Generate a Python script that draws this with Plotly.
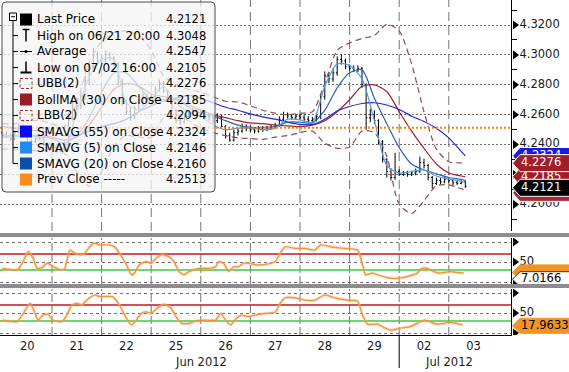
import plotly.graph_objects as go

# ---------------- data ----------------
day_labels = ["20", "21", "22", "25", "26", "27", "28", "29", "02", "03"]
day_month = [0, 0, 0, 0, 0, 0, 0, 0, 1, 1]
month_labels = ["Jun 2012", "Jul 2012"]
bars_per_day = 12  # 2-hour bars

bar_open = [
    4.2480, 4.2470, 4.2460, 4.2440, 4.2480, 4.2520, 4.2470, 4.2410, 4.2420, 4.2450, 4.2440, 4.2400,
    4.2380, 4.2380, 4.2360, 4.2370, 4.2400, 4.2580, 4.2680, 4.2660, 4.2720, 4.2830, 4.2920, 4.3000,
    4.2960, 4.2970, 4.3000, 4.2980, 4.2940, 4.2820, 4.2680, 4.2620, 4.2580, 4.2640, 4.2680, 4.2720,
    4.2710, 4.2720, 4.2770, 4.2810, 4.2760, 4.2700, 4.2630, 4.2560, 4.2550, 4.2590, 4.2610, 4.2620,
    4.2610, 4.2610, 4.2590, 4.2580, 4.2560, 4.2580, 4.2520, 4.2460, 4.2430, 4.2480, 4.2490, 4.2520,
    4.2510, 4.2500, 4.2490, 4.2510, 4.2500, 4.2510, 4.2520, 4.2530, 4.2570, 4.2600, 4.2590, 4.2580,
    4.2590, 4.2580, 4.2570, 4.2560, 4.2570, 4.2590, 4.2720, 4.2860, 4.2840, 4.2880, 4.2970, 4.2960,
    4.2920, 4.2910, 4.2900, 4.2910, 4.2800, 4.2580, 4.2600, 4.2560, 4.2420, 4.2300, 4.2220, 4.2180,
    4.2220, 4.2200, 4.2210, 4.2200, 4.2210, 4.2220, 4.2280, 4.2260, 4.2180, 4.2140, 4.2160, 4.2150,
    4.2170, 4.2160, 4.2145, 4.2140, 4.2150]
bar_high = [
    4.2500, 4.2490, 4.2475, 4.2495, 4.2545, 4.2535, 4.2480, 4.2440, 4.2465, 4.2470, 4.2455, 4.2415,
    4.2400, 4.2395, 4.2385, 4.2420, 4.2610, 4.2720, 4.2710, 4.2750, 4.2860, 4.2960, 4.3048, 4.3020,
    4.3000, 4.3030, 4.3020, 4.2990, 4.2950, 4.2840, 4.2700, 4.2650, 4.2660, 4.2700, 4.2750, 4.2740,
    4.2740, 4.2790, 4.2835, 4.2825, 4.2770, 4.2710, 4.2640, 4.2580, 4.2610, 4.2630, 4.2645, 4.2635,
    4.2640, 4.2630, 4.2610, 4.2600, 4.2610, 4.2600, 4.2530, 4.2480, 4.2500, 4.2510, 4.2540, 4.2535,
    4.2525, 4.2515, 4.2525, 4.2525, 4.2525, 4.2535, 4.2545, 4.2590, 4.2620, 4.2615, 4.2605, 4.2605,
    4.2605, 4.2600, 4.2590, 4.2585, 4.2610, 4.2740, 4.2890, 4.2885, 4.2910, 4.2990, 4.3000, 4.2975,
    4.2935, 4.2930, 4.2930, 4.2920, 4.2810, 4.2640, 4.2630, 4.2570, 4.2430, 4.2310, 4.2240, 4.2345,
    4.2235, 4.2225, 4.2225, 4.2225, 4.2240, 4.2320, 4.2305, 4.2270, 4.2190, 4.2180, 4.2175, 4.2185,
    4.2180, 4.2170, 4.2160, 4.2165, 4.2160]
bar_low = [
    4.2455, 4.2445, 4.2425, 4.2430, 4.2470, 4.2460, 4.2395, 4.2395, 4.2410, 4.2425, 4.2390, 4.2365,
    4.2355, 4.2345, 4.2350, 4.2355, 4.2390, 4.2560, 4.2630, 4.2640, 4.2700, 4.2800, 4.2900, 4.2930,
    4.2940, 4.2950, 4.2960, 4.2920, 4.2800, 4.2660, 4.2600, 4.2560, 4.2570, 4.2620, 4.2660, 4.2690,
    4.2695, 4.2705, 4.2755, 4.2745, 4.2690, 4.2615, 4.2540, 4.2530, 4.2540, 4.2580, 4.2595, 4.2590,
    4.2590, 4.2570, 4.2560, 4.2540, 4.2545, 4.2505, 4.2440, 4.2420, 4.2420, 4.2460, 4.2480, 4.2490,
    4.2485, 4.2475, 4.2480, 4.2485, 4.2490, 4.2500, 4.2510, 4.2520, 4.2555, 4.2575, 4.2565, 4.2570,
    4.2565, 4.2555, 4.2545, 4.2545, 4.2555, 4.2570, 4.2700, 4.2810, 4.2820, 4.2860, 4.2935, 4.2905,
    4.2895, 4.2885, 4.2885, 4.2780, 4.2500, 4.2550, 4.2540, 4.2400, 4.2280, 4.2180, 4.2160, 4.2165,
    4.2190, 4.2190, 4.2185, 4.2190, 4.2195, 4.2210, 4.2240, 4.2160, 4.2105, 4.2130, 4.2135, 4.2140,
    4.2145, 4.2125, 4.2130, 4.2135, 4.2110]
bar_close = [
    4.2470, 4.2460, 4.2440, 4.2480, 4.2520, 4.2470, 4.2410, 4.2420, 4.2450, 4.2440, 4.2400, 4.2380,
    4.2380, 4.2360, 4.2370, 4.2400, 4.2580, 4.2680, 4.2660, 4.2720, 4.2830, 4.2920, 4.3000, 4.2960,
    4.2970, 4.3000, 4.2980, 4.2940, 4.2820, 4.2680, 4.2620, 4.2580, 4.2640, 4.2680, 4.2720, 4.2710,
    4.2720, 4.2770, 4.2810, 4.2760, 4.2700, 4.2630, 4.2560, 4.2550, 4.2590, 4.2610, 4.2620, 4.2610,
    4.2610, 4.2590, 4.2580, 4.2560, 4.2580, 4.2520, 4.2460, 4.2430, 4.2480, 4.2490, 4.2520, 4.2510,
    4.2500, 4.2490, 4.2510, 4.2500, 4.2510, 4.2520, 4.2530, 4.2570, 4.2600, 4.2590, 4.2580, 4.2590,
    4.2580, 4.2570, 4.2560, 4.2570, 4.2590, 4.2720, 4.2860, 4.2840, 4.2880, 4.2970, 4.2960, 4.2920,
    4.2910, 4.2900, 4.2910, 4.2800, 4.2580, 4.2600, 4.2560, 4.2420, 4.2300, 4.2220, 4.2180, 4.2220,
    4.2200, 4.2210, 4.2200, 4.2210, 4.2220, 4.2280, 4.2260, 4.2180, 4.2140, 4.2160, 4.2150, 4.2170,
    4.2160, 4.2145, 4.2140, 4.2150, 4.2121]

# indicator lines, sampled every 6 hours plus the final bar
sma5 = [4.247, 4.245, 4.248, 4.243, 4.240, 4.238, 4.262, 4.285, 4.297, 4.297, 4.268, 4.263,
        4.270, 4.279, 4.268, 4.262, 4.259, 4.253, 4.250, 4.251, 4.251, 4.250, 4.251, 4.257,
        4.2565, 4.255, 4.279, 4.294, 4.293, 4.284, 4.256, 4.226, 4.221, 4.222, 4.223, 4.219,
        4.217, 4.2155, 4.2146]
sma20 = [4.246, 4.246, 4.246, 4.245, 4.244, 4.241, 4.246, 4.258, 4.275, 4.288, 4.288, 4.279,
         4.270, 4.270, 4.271, 4.265, 4.261, 4.259, 4.256, 4.253, 4.2515, 4.2515, 4.252, 4.255,
         4.255, 4.2545, 4.263, 4.278, 4.288, 4.290, 4.271, 4.254, 4.238, 4.227, 4.223, 4.2205,
         4.218, 4.2168, 4.2160]
boll_ma = [4.245, 4.2455, 4.246, 4.246, 4.245, 4.243, 4.245, 4.253, 4.265, 4.277, 4.281, 4.279,
           4.274, 4.272, 4.270, 4.2665, 4.263, 4.260, 4.258, 4.256, 4.2545, 4.254, 4.253, 4.2525,
           4.252, 4.253, 4.256, 4.262, 4.270, 4.279, 4.280, 4.2755, 4.262, 4.249, 4.2375, 4.227,
           4.221, 4.219, 4.2185]
ubb = [4.254, 4.254, 4.256, 4.256, 4.254, 4.252, 4.268, 4.295, 4.309, 4.315, 4.316, 4.313,
       4.303, 4.286, 4.280, 4.277, 4.275, 4.272, 4.269, 4.2685, 4.266, 4.263, 4.261, 4.260,
       4.261, 4.262, 4.281, 4.303, 4.308, 4.311, 4.313, 4.3205, 4.316, 4.294, 4.262, 4.237,
       4.2285, 4.2278, 4.2276]
lbb = [4.237, 4.237, 4.236, 4.236, 4.236, 4.234, 4.222, 4.212, 4.222, 4.239, 4.246, 4.245,
       4.245, 4.258, 4.260, 4.256, 4.251, 4.248, 4.246, 4.2445, 4.244, 4.2435, 4.245, 4.246,
       4.248, 4.249, 4.241, 4.2375, 4.2384, 4.249, 4.248, 4.232, 4.200, 4.194, 4.2025, 4.2125,
       4.213, 4.2105, 4.2094]
sma55 = [4.252, 4.251, 4.250, 4.249, 4.248, 4.246, 4.246, 4.249, 4.252, 4.254, 4.257, 4.262,
         4.266, 4.269, 4.271, 4.273, 4.271, 4.268, 4.265, 4.263, 4.2605, 4.2585, 4.257, 4.255,
         4.2535, 4.2535, 4.257, 4.2625, 4.2655, 4.2675, 4.268, 4.2665, 4.2635, 4.259, 4.2555, 4.251,
         4.2445, 4.2355, 4.2324]

# oscillators (time in trading days, value 0-100)
osc1_t = [0.00, 0.30, 0.40, 0.52, 0.62, 0.70, 0.80, 0.90, 0.96, 1.06, 1.20, 1.26, 1.36, 1.46, 1.56,
          1.66, 1.76, 1.86, 1.96, 2.16, 2.26, 2.36, 2.50, 2.60, 2.66, 2.76, 2.90, 3.00, 3.10, 3.22,
          3.36, 3.46, 3.56, 3.66, 3.76, 3.96, 4.16, 4.30, 4.36, 4.46, 4.56, 4.66, 4.76, 4.86, 4.96,
          5.10, 5.30, 5.50, 5.60, 5.70, 5.90, 6.10, 6.30, 6.42, 6.62, 6.90, 7.16, 7.26, 7.32, 7.46,
          7.56, 7.76, 7.96, 8.22, 8.36, 8.46, 8.56, 8.70, 8.82, 9.02, 9.30]
osc1 = [34, 30, 47, 76, 59, 34, 36, 47, 44, 36, 30, 34, 80, 72, 68,
        72, 88, 97, 93, 93, 88, 72, 43, 18, 22, 43, 51, 47, 59, 69,
        63, 51, 26, 18, 26, 34, 34, 38, 51, 47, 26, 38, 38, 47, 47,
        43, 44, 51, 72, 88, 84, 84, 80, 93, 88, 84, 80, 43, 18, 22,
        18, 11, 9, 16, 22, 34, 34, 26, 22, 26, 22]
osc2_t = [0.00, 0.30, 0.40, 0.56, 0.66, 0.72, 0.82, 0.92, 1.02, 1.20, 1.30, 1.40, 1.50, 1.60, 1.70,
          1.86, 1.96, 2.22, 2.36, 2.50, 2.60, 2.70, 2.80, 2.90, 3.00, 3.12, 3.26, 3.40, 3.52, 3.62,
          3.76, 3.90, 4.10, 4.30, 4.40, 4.50, 4.60, 4.72, 4.82, 4.96, 5.10, 5.30, 5.50, 5.60, 5.70,
          5.90, 6.10, 6.30, 6.50, 6.70, 6.96, 7.16, 7.26, 7.36, 7.56, 7.82, 8.02, 8.22, 8.36, 8.50,
          8.62, 8.76, 8.90, 9.02, 9.28]
osc2 = [32, 28, 45, 74, 49, 32, 45, 47, 32, 28, 45, 70, 74, 70, 82,
        95, 91, 91, 70, 37, 20, 32, 49, 53, 49, 62, 72, 62, 37, 24,
        24, 30, 32, 32, 49, 32, 20, 37, 45, 41, 45, 49, 52, 74, 88,
        88, 82, 82, 95, 88, 82, 80, 45, 22, 22, 7, 12, 16, 24, 32,
        28, 22, 24, 27, 20]
osc_levels = [70, 30]
osc_tag_values = [7.0166, 17.9633]

legend_names = ["Last Price", "High on 06/21 20:00", "Average", "Low on 07/02 16:00", "UBB(2)",
                "BollMA (30) on Close", "LBB(2)", "SMAVG (55) on Close", "SMAVG (5) on Close",
                "SMAVG (20) on Close", "Prev Close -----"]
legend_values = [4.2121, 4.3048, 4.2547, 4.2105, 4.2276, 4.2185, 4.2094, 4.2324, 4.2146, 4.2160, 4.2513]
prev_close = 4.2513
price_ticks = [4.20, 4.22, 4.24, 4.26, 4.28, 4.30, 4.32]
price_minor = [4.19, 4.21, 4.23, 4.25, 4.27, 4.29, 4.31, 4.33]
osc_ticks = [0, 50, 100]

# ---------------- geometry / style ----------------
W, H = 569, 372
AX_R = 511
PLOT_B = 335
X0_PX, PX_PER_DAY = 2.4, 49.6
PRICE_PX = 1495.0            # px per price unit
MAIN_BOT = 231
P1 = (238, 284)
P2 = (289, 335)
FONT = "DejaVu Sans"
TXT = "#1a1a1a"

def fx(px):
    return px / W

def fy(py):
    return (PLOT_B - py) / PLOT_B

xr = [(0 - X0_PX) / PX_PER_DAY, (AX_R - X0_PX) / PX_PER_DAY]
yr_main = [4.20 - (MAIN_BOT - 204.4) / PRICE_PX, 4.20 + 204.4 / PRICE_PX]
yr_osc = [-5, 110]
xdom = [0, AX_R / W]
dom_main = [fy(MAIN_BOT), 1.0]
dom_p1 = [fy(P1[1]), fy(P1[0])]
dom_p2 = [fy(P2[1]), fy(P2[0])]

bar_t = [k / bars_per_day for k in range(len(bar_close))]
line_t = [k / 4 for k in range(len(sma5) - 1)] + [bar_t[-1]]

C_SMA55 = "#2626d8"
C_SMA5 = "#4b9fe3"
C_SMA20 = "#2b62b2"
C_BOLL = "#a3202c"
C_BAND = "#9a4852"
C_ORANGE = "#f29423"

fig = go.Figure()

# price bars
fig.add_trace(go.Ohlc(x=bar_t, open=bar_open, high=bar_high, low=bar_low, close=bar_close,
                      increasing_line_color="black", decreasing_line_color="black",
                      line_width=1, tickwidth=0.3, xaxis="x", yaxis="y",
                      showlegend=False, hoverinfo="skip"))

def add_line(y, color, width=1.2, dash=None):
    fig.add_trace(go.Scatter(x=line_t, y=y, mode="lines", xaxis="x", yaxis="y",
                             line=dict(color=color, width=width, dash=dash, shape="spline", smoothing=0.7),
                             showlegend=False, hoverinfo="skip"))

add_line(ubb, C_BAND, 1.2, "6px,4px")
add_line(lbb, C_BAND, 1.2, "6px,4px")
add_line(boll_ma, C_BOLL)
add_line(sma55, C_SMA55)
add_line(sma20, C_SMA20)
add_line(sma5, C_SMA5)

# oscillators
for t, v, ya in [(osc1_t, osc1, "y2"), (osc2_t, osc2, "y3")]:
    xa = "x2" if ya == "y2" else "x3"
    fig.add_trace(go.Scatter(x=t, y=v, mode="lines", xaxis=xa, yaxis=ya,
                             line=dict(color="rgba(250,170,150,0.45)", width=3, shape="spline", smoothing=0.5),
                             showlegend=False, hoverinfo="skip"))
    fig.add_trace(go.Scatter(x=t, y=v, mode="lines", xaxis=xa, yaxis=ya,
                             line=dict(color=C_ORANGE, width=1.2, shape="spline", smoothing=0.5),
                             showlegend=False, hoverinfo="skip"))

# ---- right-hand axis decorations in a strip subplot (x4) ----
def tri(vals, ya):
    fig.add_trace(go.Scatter(x=[4] * len(vals), y=vals, mode="markers", xaxis="x4", yaxis=ya,
                             marker=dict(symbol="triangle-right", size=8, color="black"),
                             showlegend=False, hoverinfo="skip"))

def labels(vals, texts, ya):
    fig.add_trace(go.Scatter(x=[8.5] * len(vals), y=vals, mode="text", text=texts, xaxis="x4", yaxis=ya,
                             textposition="middle right", textfont=dict(family=FONT, size=11.5, color=TXT),
                             showlegend=False, hoverinfo="skip"))

tri(price_ticks, "y4")
labels(price_ticks, [f"{v:.4f}" for v in price_ticks], "y4")
tri(osc_ticks, "y5")
labels([50], ["50"], "y5")
tri(osc_ticks, "y6")
labels([50], ["50"], "y6")

def tag(center, h, fill, text, tcolor, ya, edge="white"):
    xs = [1.5, 9, 59, 59, 9, 1.5]
    ys = [center, center + h / 2, center + h / 2, center - h / 2, center - h / 2, center]
    fig.add_trace(go.Scatter(x=xs, y=ys, mode="lines", fill="toself", fillcolor=fill,
                             line=dict(color=edge, width=1), xaxis="x4", yaxis=ya,
                             showlegend=False, hoverinfo="skip"))
    if text:
        fig.add_trace(go.Scatter(x=[10], y=[center], mode="text", text=[text], xaxis="x4", yaxis=ya,
                                 textposition="middle right",
                                 textfont=dict(family=FONT, size=11.5, color=tcolor),
                                 showlegend=False, hoverinfo="skip"))

TAG_H = 17 / PRICE_PX
# draw order back to front: SMA55, BollMA, LBB, UBB, Last
main_tags = [(7, "#1b1be0", 0.0), (5, "#a01e2a", 0.0), (6, "#a8283a", -0.0017),
             (4, "#a01e2a", 0.0), (0, "#000000", -0.001)]
for idx, col, nudge in main_tags:
    v = legend_values[idx]
    tag(v + nudge, TAG_H, col, f"{v:.4f}", "white", "y4")

OSC_H = 15 / 0.4
tag(osc1[-1] + 2, OSC_H, C_ORANGE, "", "black", "y5", edge=C_ORANGE)
tag(osc_tag_values[0], OSC_H, "white", f"{osc_tag_values[0]:.4f}", "black", "y5", edge="#333333")
tag(osc_tag_values[1], OSC_H, C_ORANGE, f"{osc_tag_values[1]:.4f}", "black", "y6", edge=C_ORANGE)

# ---------------- shapes ----------------
shapes = []
# vertical day gridlines
for d in range(1, len(day_labels)):
    for yref, dash in [("y domain", "9px,5px"), ("y2 domain", "8px,3px"), ("y3 domain", "8px,3px")]:
        xref = {"y domain": "x", "y2 domain": "x2", "y3 domain": "x3"}[yref]
        shapes.append(dict(type="line", xref=xref, yref=yref, x0=d, x1=d, y0=0, y1=1,
                           line=dict(color="#737373", width=1, dash=dash), layer="below"))
# oscillator levels
for ya, xa in [("y2", "x2"), ("y3", "x3")]:
    for lvl, col in zip(osc_levels, ["#c8141e", "#3cc83c"]):
        shapes.append(dict(type="line", xref=xa + " domain", yref=ya, x0=0, x1=1, y0=lvl, y1=lvl,
                           line=dict(color=col, width=1.3), layer="below"))
# previous close
shapes.append(dict(type="line", xref="x domain", yref="y", x0=0, x1=1, y0=prev_close, y1=prev_close,
                   line=dict(color="#ff8000", width=2, dash="2px,2px"), layer="above"))
# month divider
jul_start = day_month.index(1)
shapes.append(dict(type="line", xref="x3", yref="paper", x0=jul_start, x1=jul_start, y0=0, y1=fy(368),
                   line=dict(color="black", width=1)))
# panel separators
for py in [235, 286]:
    shapes.append(dict(type="line", xref="paper", yref="paper", x0=0, x1=1, y0=fy(py), y1=fy(py),
                       line=dict(color="#8c8c8c", width=4), layer="above"))

# legend box (rounded)
lx0, lx1, lt, lb = fx(2), fx(215), fy(2), fy(192)
rx, ry = 4 / W, 4 / PLOT_B
path = (f"M {lx0+rx},{lt} L {lx1-rx},{lt} Q {lx1},{lt} {lx1},{lt-ry} L {lx1},{lb+ry} "
        f"Q {lx1},{lb} {lx1-rx},{lb} L {lx0+rx},{lb} Q {lx0},{lb} {lx0},{lb+ry} "
        f"L {lx0},{lt-ry} Q {lx0},{lt} {lx0+rx},{lt} Z")
shapes.append(dict(type="path", xref="paper", yref="paper", path=path,
                   fillcolor="rgba(244,244,244,0.74)", line=dict(color="#4a4a4a", width=1), layer="above"))

def pline(x0, y0, x1, y1, color="black", width=1, dash=None):
    shapes.append(dict(type="line", xref="paper", yref="paper", x0=fx(x0), y0=fy(y0), x1=fx(x1), y1=fy(y1),
                       line=dict(color=color, width=width, dash=dash), layer="above"))

def prect(x0, y0, x1, y1, fill, color=None, width=0, dash=None):
    shapes.append(dict(type="rect", xref="paper", yref="paper", x0=fx(x0), y0=fy(y0), x1=fx(x1), y1=fy(y1),
                       fillcolor=fill, line=dict(color=color or fill, width=width, dash=dash), layer="above"))

ROW0, ROW_STEP = 19.5, 16
rows = [ROW0 + ROW_STEP * i for i in range(len(legend_names))]
# tree
pline(13, 21, 13, rows[9])
for r in rows[1:10]:
    pline(13, r, 18, r)
prect(9.5, 13, 16.5, 20.5, "white", "black", 1)
pline(11, 16.75, 15, 16.75)

icon_fill = {0: "#000000", 5: "#9c1a28", 7: "#0a0af0", 8: "#1f8cf5", 9: "#0d4fa8", 10: "#ff8c1a"}
for i, r in enumerate(rows):
    if i in icon_fill:
        prect(20, r - 6, 32, r + 6, icon_fill[i])
    elif i == 1:
        pline(26, r - 6, 26, r + 6, width=1.5)
        pline(22.5, r - 6, 29.5, r - 6, width=1.5)
    elif i == 2:
        pline(20, r, 32, r, width=1)
        shapes.append(dict(type="circle", xref="paper", yref="paper", x0=fx(24.5), x1=fx(27.5),
                           y0=fy(r + 1.5), y1=fy(r - 1.5), fillcolor="black", line=dict(width=0), layer="above"))
    elif i == 3:
        pline(26, r - 6, 26, r + 5, width=1.5)
        pline(20.5, r + 5, 31.5, r + 5, width=2)
    elif i in (4, 6):
        prect(20, r - 5, 32, r + 5, "rgba(0,0,0,0)", "#a0303c", 1, "3px,2px")

annotations = []
for i, r in enumerate(rows):
    annotations.append(dict(xref="paper", yref="paper", x=fx(35), y=fy(r), text=legend_names[i],
                            showarrow=False, xanchor="left", yanchor="middle",
                            font=dict(family=FONT, size=12, color="black")))
    annotations.append(dict(xref="paper", yref="paper", x=fx(208), y=fy(r), text=f"{legend_values[i]:.4f}",
                            showarrow=False, xanchor="right", yanchor="middle",
                            font=dict(family=FONT, size=11.5, color="black")))
# month labels
for m, name in enumerate(month_labels):
    idx = [i for i, mm in enumerate(day_month) if mm == m]
    center = (idx[0] + idx[-1] + 1) / 2
    annotations.append(dict(xref="x3", yref="paper", x=center, y=fy(362), text=name, showarrow=False,
                            xanchor="center", yanchor="middle", font=dict(family=FONT, size=11.5, color=TXT)))

axis_common = dict(range=xr, domain=xdom, showgrid=False, zeroline=False, ticks="", fixedrange=True)
fig.update_layout(
    width=W, height=H, margin=dict(l=0, r=0, t=0, b=H - PLOT_B),
    paper_bgcolor="white", plot_bgcolor="white", showlegend=False,
    font=dict(family=FONT, size=11.5, color=TXT),
    xaxis=dict(anchor="y", showticklabels=False, rangeslider=dict(visible=False), **axis_common),
    xaxis2=dict(anchor="y2", matches="x", showticklabels=False, **axis_common),
    xaxis3=dict(anchor="y3", matches="x", showticklabels=True, showline=True, linecolor="black", linewidth=1,
                tickvals=[i + 0.5 for i in range(len(day_labels))], ticktext=day_labels,
                tickfont=dict(family=FONT, size=11.5, color=TXT), **axis_common),
    xaxis4=dict(anchor="y4", domain=[AX_R / W, 1], range=[0, W - AX_R], visible=False, fixedrange=True),
    yaxis=dict(anchor="x", side="right", domain=dom_main, range=yr_main, tickvals=price_ticks,
               showticklabels=False, ticks="", showgrid=True, gridcolor="#6e6e6e", griddash="2px,2px",
               gridwidth=1, showline=True, linecolor="black", linewidth=1, zeroline=False,
               minor=dict(tickvals=price_minor, ticks="outside", ticklen=5, tickcolor="black", showgrid=False)),
    yaxis2=dict(anchor="x2", side="right", domain=dom_p1, range=yr_osc, tickvals=osc_ticks,
                showticklabels=False, ticks="", showgrid=True, gridcolor="#6e6e6e", griddash="3px,3px",
                showline=True, linecolor="black", linewidth=1, zeroline=False),
    yaxis3=dict(anchor="x3", side="right", domain=dom_p2, range=yr_osc, tickvals=osc_ticks,
                showticklabels=False, ticks="", showgrid=True, gridcolor="#6e6e6e", griddash="3px,3px",
                showline=True, linecolor="black", linewidth=1, zeroline=False),
    yaxis4=dict(anchor="x4", domain=dom_main, range=yr_main, visible=False, fixedrange=True),
    yaxis5=dict(anchor="x4", domain=dom_p1, range=yr_osc, visible=False, fixedrange=True),
    yaxis6=dict(anchor="x4", domain=dom_p2, range=yr_osc, visible=False, fixedrange=True),
    shapes=shapes, annotations=annotations,
)

fig.write_html("out.html", config={"displayModeBar": False},
               post_script="document.body.style.margin='0px';document.body.style.padding='0px';"
                           "document.body.style.overflow='hidden';")
